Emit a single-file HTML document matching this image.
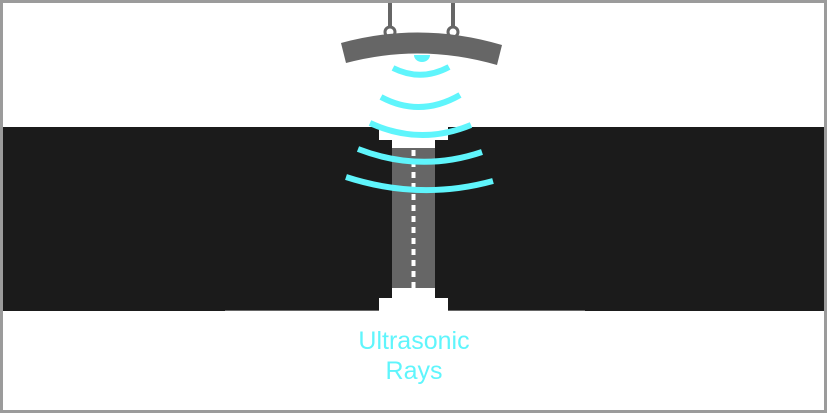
<!DOCTYPE html>
<html><head><style>
html,body{margin:0;padding:0;background:#fff;}
svg{display:block;}
</style></head><body>
<svg width="827" height="413" viewBox="0 0 827 413" xmlns="http://www.w3.org/2000/svg">
<rect x="1.5" y="1.5" width="824" height="410" fill="#fff" stroke="#9b9b9b" stroke-width="3"/>
<rect x="3" y="127" width="821" height="184" fill="#1b1b1b"/>
<line x1="225" y1="310.5" x2="585" y2="310.5" stroke="#666" stroke-width="1"/>
<rect x="379" y="127" width="69" height="13" fill="#fff"/>
<rect x="392" y="127" width="43" height="21" fill="#fff"/>
<rect x="392" y="148" width="43" height="140" fill="#666"/>
<rect x="392" y="288" width="43" height="12" fill="#fff"/>
<rect x="379" y="298" width="69" height="13" fill="#fff"/>
<line x1="413.5" y1="150" x2="413.5" y2="288" stroke="#fff" stroke-width="4" stroke-dasharray="6,5"/>
<line x1="390" y1="3" x2="390" y2="27" stroke="#666" stroke-width="4"/>
<line x1="453" y1="3" x2="453" y2="27" stroke="#666" stroke-width="4"/>
<circle cx="390" cy="32" r="5" fill="#fff" stroke="#666" stroke-width="3"/>
<circle cx="453" cy="32" r="5" fill="#fff" stroke="#666" stroke-width="3"/>
<path d="M341 43 Q421 21 502 45 L497 65 Q421 43 346 63 Z" fill="#666"/>
<path d="M414 55 A8 7 0 0 0 430 55 Z" fill="#5ff5fc"/>
<g fill="none" stroke="#5ff5fc" stroke-width="6">
<path d="M393 68 Q421 82 449 67"/>
<path d="M381 97 Q420 118 460 95"/>
<path d="M370 123 Q420 146 471 125"/>
<path d="M358 149 Q420 173 482 152"/>
<path d="M346 177 Q420 201 493 181"/>
</g>
<g font-family="Liberation Sans, sans-serif" font-size="25" fill="#5ff5fc" text-anchor="middle">
<text x="414" y="349">Ultrasonic</text>
<text x="414" y="379">Rays</text>
</g>
</svg>
</body></html>
